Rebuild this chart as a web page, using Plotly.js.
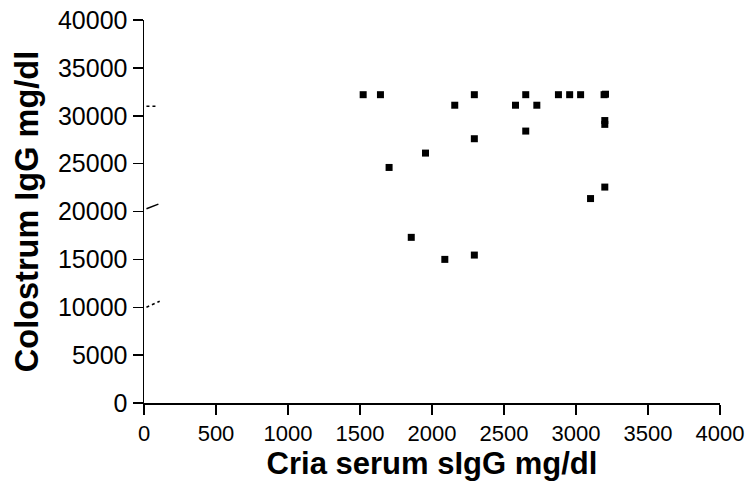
<!DOCTYPE html>
<html>
<head>
<meta charset="utf-8">
<script src="https://cdn.plot.ly/plotly-3.0.1.min.js"></script>
<style>html,body{margin:0;padding:0;background:#fff;}#chart{width:751px;height:481px;}</style>
</head>
<body>
<div id="chart"></div>
<script>
// Data
const criaSerumIgG = [1522, 1642, 2294, 2651, 2878, 2956, 3032, 3195, 3205, 2158, 2580, 2728, 3200, 3200, 2651, 2294, 1955, 1702, 3200, 3101, 1856, 2089, 2294];
const colostrumIgG = [32200, 32200, 32200, 32200, 32200, 32200, 32200, 32200, 32250, 31100, 31100, 31100, 29500, 29100, 28400, 27600, 26100, 24600, 22550, 21350, 17300, 15000, 15450];
const xTicks = [0, 500, 1000, 1500, 2000, 2500, 3000, 3500, 4000];
const yTicks = [0, 5000, 10000, 15000, 20000, 25000, 30000, 35000, 40000];
// Axis-break marks on the y axis (data units)
const breakX0 = [17, 17, 17];
const breakX1 = [100, 100, 109];
const breakY0 = [30990, 20280, 10005];
const breakY1 = [30990, 20770, 10630];
const breakDash = ['dot', 'solid', 'dot'];

const trace = {
  x: criaSerumIgG,
  y: colostrumIgG,
  mode: 'markers',
  type: 'scatter',
  marker: {symbol: 'square', size: 7, color: '#000'},
  hoverinfo: 'x+y'
};

const shapes = breakX0.map((x0, i) => ({
  type: 'line', xref: 'x', yref: 'y',
  x0: x0, x1: breakX1[i], y0: breakY0[i], y1: breakY1[i],
  line: {color: '#000', width: 1.5, dash: breakDash[i]}
}));

const fam = 'Liberation Sans, Arial, sans-serif';

const layout = {
  width: 751, height: 481,
  margin: {l: 144, r: 31, t: 20, b: 78},
  paper_bgcolor: '#fff', plot_bgcolor: '#fff',
  showlegend: false,
  xaxis: {
    range: [0, 4000], tickvals: xTicks, ticktext: xTicks.map(String),
    showgrid: false, zeroline: false, showline: true, linecolor: '#000', linewidth: 1.5,
    ticks: 'outside', ticklen: 10, tickwidth: 1.5, tickcolor: '#000',
    tickfont: {family: fam, size: 22, color: '#000'},
    title: {text: 'Cria serum sIgG mg/dl', font: {family: fam, size: 31, color: '#000', weight: 'bold'}, standoff: 10}
  },
  yaxis: {
    range: [0, 40000], tickvals: yTicks, ticktext: yTicks.map(String),
    showgrid: false, zeroline: false, showline: true, linecolor: '#000', linewidth: 1.5,
    ticks: 'outside', ticklen: 10, tickwidth: 1.5, tickcolor: '#000',
    tickfont: {family: fam, size: 25, color: '#000'},
    title: {text: 'Colostrum IgG mg/dl', font: {family: fam, size: 32.5, color: '#000', weight: 'bold'}, standoff: 9}
  },
  shapes: shapes
};

Plotly.newPlot('chart', [trace], layout, {displayModeBar: false, staticPlot: true});
</script>
</body>
</html>
